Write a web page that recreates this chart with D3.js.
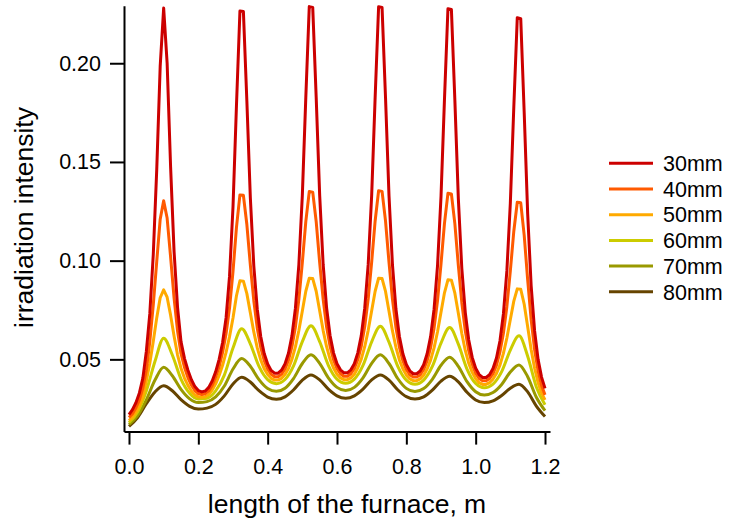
<!DOCTYPE html>
<html><head><meta charset="utf-8">
<script src="https://cdn.jsdelivr.net/npm/d3@7"></script>
<style>
body{margin:0;background:#fff;}
svg{display:block;}
text{font-family:"Liberation Sans",Arial,sans-serif;fill:#000;}
</style>
</head><body>
<svg id="chart" width="729" height="521"></svg>
<script>
// sample positions along the furnace (m)
const xFine = [0,0.01,0.02,0.03,0.04,0.05,0.06,0.07,0.08,0.09,
0.10,0.11,0.12,0.13,0.14,0.15,0.16,0.17,0.18,0.19,
0.20,0.21,0.22,0.23,0.24,0.25,0.26,0.27,0.28,0.29,
0.30,0.31,0.32,0.33,0.34,0.35,0.36,0.37,0.38,0.39,
0.40,0.41,0.42,0.43,0.44,0.45,0.46,0.47,0.48,0.49,
0.50,0.51,0.52,0.53,0.54,0.55,0.56,0.57,0.58,0.59,
0.60,0.61,0.62,0.63,0.64,0.65,0.66,0.67,0.68,0.69,
0.70,0.71,0.72,0.73,0.74,0.75,0.76,0.77,0.78,0.79,
0.80,0.81,0.82,0.83,0.84,0.85,0.86,0.87,0.88,0.89,
0.90,0.91,0.92,0.93,0.94,0.95,0.96,0.97,0.98,0.99,
1.00,1.01,1.02,1.03,1.04,1.05,1.06,1.07,1.08,1.09,
1.10,1.11,1.12,1.13,1.14,1.15,1.16,1.17,1.18,1.19,
1.20];
const xCoarse = [0,0.025,0.05,0.075,0.1,0.125,0.15,0.175,0.2,0.225,
0.25,0.275,0.3,0.325,0.35,0.375,0.4,0.425,0.45,0.475,
0.5,0.525,0.55,0.575,0.6,0.625,0.65,0.675,0.7,0.725,
0.75,0.775,0.8,0.825,0.85,0.875,0.9,0.925,0.95,0.975,
1.0,1.025,1.05,1.075,1.1,1.125,1.15,1.175,1.2];

const s30 = [0.0220,0.0245,0.0280,0.0330,0.0405,0.0540,0.0730,0.1030,0.1460,0.1985,
0.2280,0.2001,0.1476,0.1047,0.0765,0.0590,0.0505,0.0445,0.0397,0.0362,
0.0342,0.0335,0.0340,0.0358,0.0390,0.0437,0.0500,0.0585,0.0710,0.0920,
0.1272,0.1786,0.2265,0.2262,0.1809,0.1320,0.0974,0.0754,0.0616,0.0530,
0.0476,0.0444,0.0430,0.0430,0.0445,0.0477,0.0531,0.0619,0.0758,0.0980,
0.1331,0.1826,0.2287,0.2283,0.1826,0.1332,0.0982,0.0760,0.0621,0.0533,
0.0478,0.0447,0.0432,0.0432,0.0447,0.0478,0.0533,0.0620,0.0759,0.0981,
0.1331,0.1826,0.2286,0.2282,0.1824,0.1329,0.0978,0.0755,0.0616,0.0528,
0.0474,0.0442,0.0427,0.0427,0.0441,0.0473,0.0528,0.0615,0.0754,0.0975,
0.1324,0.1817,0.2276,0.2272,0.1812,0.1314,0.0961,0.0738,0.0598,0.0510,
0.0455,0.0423,0.0408,0.0408,0.0422,0.0454,0.0507,0.0593,0.0730,0.0948,
0.1292,0.1778,0.2231,0.2226,0.1749,0.1237,0.0874,0.0644,0.0500,0.0410,
0.0353];
const s40 = [0.0205,0.0225,0.0255,0.0295,0.0355,0.0445,0.0590,0.0775,0.0995,0.1210,
0.1303,0.1216,0.1019,0.0812,0.0645,0.0530,0.0460,0.0408,0.0370,0.0342,
0.0327,0.0322,0.0326,0.0340,0.0368,0.0410,0.0463,0.0535,0.0630,0.0760,
0.0945,0.1169,0.1333,0.1331,0.1183,0.0979,0.0797,0.0658,0.0561,0.0495,
0.0451,0.0425,0.0412,0.0412,0.0425,0.0452,0.0496,0.0564,0.0663,0.0804,
0.0990,0.1198,0.1350,0.1347,0.1198,0.0990,0.0805,0.0664,0.0566,0.0498,
0.0454,0.0427,0.0414,0.0414,0.0427,0.0454,0.0499,0.0566,0.0666,0.0807,
0.0993,0.1201,0.1354,0.1351,0.1200,0.0991,0.0804,0.0662,0.0562,0.0494,
0.0449,0.0422,0.0410,0.0410,0.0422,0.0449,0.0493,0.0560,0.0658,0.0798,
0.0983,0.1189,0.1341,0.1338,0.1186,0.0976,0.0787,0.0645,0.0544,0.0476,
0.0430,0.0403,0.0391,0.0391,0.0403,0.0428,0.0471,0.0537,0.0632,0.0768,
0.0948,0.1149,0.1296,0.1293,0.1128,0.0903,0.0701,0.0549,0.0442,0.0368,
0.0320];
const s50 = [0.0190,0.0207,0.0232,0.0265,0.0312,0.0390,0.0480,0.0590,0.0710,0.0812,
0.0852,0.0815,0.0724,0.0618,0.0523,0.0455,0.0405,0.0368,0.0340,0.0320,
0.0310,0.0308,0.0311,0.0322,0.0344,0.0376,0.0418,0.0470,0.0535,0.0615,
0.0709,0.0822,0.0898,0.0896,0.0833,0.0736,0.0639,0.0558,0.0497,0.0453,
0.0423,0.0404,0.0395,0.0395,0.0404,0.0423,0.0454,0.0500,0.0563,0.0646,
0.0745,0.0845,0.0911,0.0909,0.0845,0.0746,0.0647,0.0564,0.0501,0.0456,
0.0425,0.0406,0.0397,0.0397,0.0406,0.0425,0.0456,0.0501,0.0564,0.0647,
0.0746,0.0845,0.0911,0.0909,0.0844,0.0744,0.0644,0.0561,0.0497,0.0452,
0.0420,0.0401,0.0392,0.0392,0.0401,0.0420,0.0451,0.0496,0.0558,0.0640,
0.0739,0.0837,0.0903,0.0901,0.0835,0.0733,0.0631,0.0545,0.0480,0.0434,
0.0402,0.0382,0.0373,0.0373,0.0382,0.0400,0.0429,0.0471,0.0530,0.0608,
0.0702,0.0795,0.0857,0.0855,0.0779,0.0665,0.0550,0.0455,0.0382,0.0330,
0.0295];
const s60 = [0.0180,0.0235,0.0340,0.0490,0.0607,
0.0522,0.0400,0.0328,0.0299,0.0303,
0.0340,0.0420,0.0557,0.0655,0.0579,
0.0464,0.0397,0.0377,0.0398,0.0468,
0.0590,0.0670,0.0590,0.0470,0.0400,
0.0379,0.0400,0.0469,0.0589,0.0668,
0.0587,0.0466,0.0395,0.0374,0.0395,
0.0464,0.0582,0.0661,0.0577,0.0451,
0.0378,0.0356,0.0375,0.0438,0.0547,
0.0619,0.0516,0.0360,0.0270];
const s70 = [0.0170,0.0215,0.0295,0.0395,0.0460,
0.0417,0.0348,0.0300,0.0281,0.0286,
0.0310,0.0365,0.0451,0.0504,0.0465,
0.0397,0.0352,0.0338,0.0354,0.0404,
0.0479,0.0523,0.0480,0.0406,0.0358,
0.0342,0.0358,0.0406,0.0480,0.0523,
0.0479,0.0403,0.0353,0.0337,0.0352,
0.0399,0.0470,0.0511,0.0465,0.0387,
0.0336,0.0319,0.0332,0.0373,0.0436,
0.0472,0.0412,0.0308,0.0240];
const s80 = [0.0160,0.0205,0.0275,0.0335,0.0366,
0.0341,0.0296,0.0262,0.0248,0.0253,
0.0272,0.0315,0.0375,0.0409,0.0385,
0.0341,0.0309,0.0298,0.0310,0.0346,
0.0395,0.0421,0.0396,0.0349,0.0315,
0.0303,0.0315,0.0349,0.0396,0.0421,
0.0395,0.0346,0.0311,0.0299,0.0310,
0.0344,0.0390,0.0414,0.0386,0.0333,
0.0294,0.0281,0.0290,0.0317,0.0354,
0.0374,0.0335,0.0263,0.0210];

const seriesNames = ["30mm","40mm","50mm","60mm","70mm","80mm"];
const seriesColors = ["#cc0000","#ff5a00","#ffaa00","#cccc00","#999900","#664400"];
const xTicks = [0,0.2,0.4,0.6,0.8,1.0,1.2];
const yTicks = [0.05,0.10,0.15,0.20];

const series = [
  {name: seriesNames[0], color: seriesColors[0], xs: xFine, ys: s30, curve: d3.curveLinear},
  {name: seriesNames[1], color: seriesColors[1], xs: xFine, ys: s40, curve: d3.curveLinear},
  {name: seriesNames[2], color: seriesColors[2], xs: xFine, ys: s50, curve: d3.curveLinear},
  {name: seriesNames[3], color: seriesColors[3], xs: xCoarse, ys: s60, curve: d3.curveMonotoneX},
  {name: seriesNames[4], color: seriesColors[4], xs: xCoarse, ys: s70, curve: d3.curveMonotoneX},
  {name: seriesNames[5], color: seriesColors[5], xs: xCoarse, ys: s80, curve: d3.curveMonotoneX}
];

const svg = d3.select("#chart");
const x = d3.scaleLinear().domain([-0.0144, 1.2144]).range([124, 550]);
const y = d3.scaleLinear().domain([0.0134, 0.2291]).range([431.6, 5.8]);

// lines
series.slice().reverse().forEach(s => {
  const line = d3.line().x((d, i) => x(s.xs[i])).y(d => y(d)).curve(s.curve);
  svg.append("path")
    .datum(s.ys)
    .attr("d", line)
    .attr("fill", "none")
    .attr("stroke", s.color)
    .attr("stroke-width", 3)
    .attr("stroke-linejoin", "round");
});

// axes
const xAxis = svg.append("g").attr("transform", "translate(0,431.6)")
  .call(d3.axisBottom(x).tickValues(xTicks).tickFormat(d3.format(".1f"))
    .tickSize(13).tickSizeOuter(0).tickPadding(14));
const yAxis = svg.append("g").attr("transform", "translate(124,0)")
  .call(d3.axisLeft(y).tickValues(yTicks).tickFormat(d3.format(".2f"))
    .tickSize(14).tickSizeOuter(0).tickPadding(9));
[xAxis, yAxis].forEach(g => {
  g.selectAll("path, line").attr("stroke", "#000").attr("stroke-width", 2);
  g.selectAll("text").attr("font-size", "21.5px").attr("fill", "#000")
    .attr("font-family", "'Liberation Sans', Arial, sans-serif");
});

// titles
svg.append("text").attr("x", 347).attr("y", 513).attr("text-anchor", "middle")
  .attr("font-size", "26.5px").text("length of the furnace, m");
svg.append("text").attr("transform", "translate(33,217.5) rotate(-90)")
  .attr("text-anchor", "middle").attr("font-size", "26.5px").text("irradiation intensity");

// legend
const legend = svg.append("g");
series.forEach((s, i) => {
  const ly = 163.3 + i * 25.7;
  legend.append("line").attr("x1", 609).attr("x2", 653).attr("y1", ly).attr("y2", ly)
    .attr("stroke", s.color).attr("stroke-width", 3);
  legend.append("text").attr("x", 663).attr("y", ly).attr("dy", "0.36em")
    .attr("font-size", "21.5px").text(s.name);
});
</script>
</body></html>
